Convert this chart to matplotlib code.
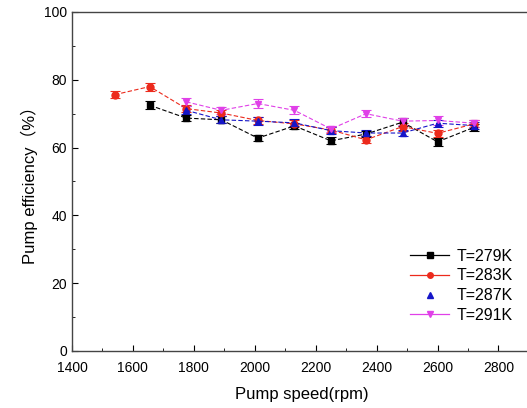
import matplotlib
matplotlib.use("Agg")
import matplotlib.pyplot as plt
from matplotlib.lines import Line2D
from matplotlib.ticker import MultipleLocator

plt.rcParams.update({
    "font.family": ["Liberation Sans", "Noto Sans CJK SC", "DejaVu Sans"],
    "xtick.direction": "in",
    "ytick.direction": "in",
    "axes.linewidth": 1.0,
})

# pump speed (rpm) per series
x_279 = [1655, 1775, 1890, 2010, 2130, 2250, 2365, 2485, 2600, 2720]
x_283 = [1540, 1655, 1775, 1890, 2010, 2130, 2250, 2365, 2485, 2600, 2720]
x_287 = [1775, 1890, 2010, 2130, 2250, 2365, 2485, 2600, 2720]
x_291 = [1775, 1890, 2010, 2130, 2250, 2365, 2485, 2600, 2720]

# pump efficiency (%)
y_279 = [72.5, 68.7, 68.2, 62.8, 66.4, 62.0, 64.0, 67.5, 61.7, 66.0]
y_283 = [75.6, 78.0, 71.5, 70.2, 68.0, 67.0, 65.2, 62.3, 66.2, 64.2, 67.0]
y_287 = [71.0, 68.2, 67.8, 67.3, 65.0, 64.3, 64.3, 67.2, 66.5]
y_291 = [73.5, 71.0, 73.0, 71.0, 65.5, 70.0, 67.8, 68.0, 67.2]

# error bar half widths
e_279 = [1.2, 1.0, 1.0, 1.0, 1.0, 1.0, 1.0, 1.2, 1.2, 1.0]
e_283 = [1.0, 1.2, 1.0, 1.0, 1.0, 1.0, 1.0, 1.0, 1.2, 1.0, 1.0]
e_287 = [1.2, 1.0, 1.2, 1.0, 1.0, 1.0, 1.0, 1.0, 1.0]
e_291 = [1.2, 1.0, 1.2, 1.2, 1.0, 1.0, 1.0, 1.2, 1.0]

labels = ["T=279K", "T=283K", "T=287K", "T=291K"]
colors = ["black", "#ec2a1c", "#1515c8", "#e040e8"]
markers = ["s", "o", "^", "v"]

series = [(x_279, y_279, e_279), (x_283, y_283, e_283),
          (x_287, y_287, e_287), (x_291, y_291, e_291)]

fig = plt.figure(figsize=(5.27, 4.08), dpi=100)
ax = fig.add_axes([72 / 527, 57 / 408, 460 / 527, 339 / 408])

for (xs, ys, es), c, m in zip(series, colors, markers):
    ax.errorbar(xs, ys, yerr=es, color=c, marker=m, markersize=5,
                linestyle="--", linewidth=0.8, elinewidth=0.8,
                capsize=3.5, capthick=0.8, dashes=(4, 2))

ax.set_xlim(1400, 2910)
ax.set_ylim(0, 100)
ax.xaxis.set_major_locator(MultipleLocator(200))
ax.xaxis.set_minor_locator(MultipleLocator(100))
ax.yaxis.set_major_locator(MultipleLocator(20))
ax.yaxis.set_minor_locator(MultipleLocator(10))
ax.tick_params(which="major", length=4, labelsize=10)
ax.tick_params(axis="x", which="major", pad=7)
ax.tick_params(which="minor", length=2)
ax.spines["right"].set_visible(False)
for s in ax.spines.values():
    s.set_color("#444444")

ax.set_xlabel("Pump speed(rpm)", fontsize=12, labelpad=9)
ax.set_ylabel("Pump efficiency（%）", fontsize=12, labelpad=4)

handles = []
for lab, c, m in zip(labels, colors, markers):
    ls = "none" if m == "^" else "-"
    handles.append(Line2D([], [], color=c, marker=m, markersize=4,
                          linestyle=ls, linewidth=0.9, label=lab))
ax.legend(handles=handles, loc="lower right", bbox_to_anchor=(0.99, 0.04),
          frameon=False, fontsize=11.5, handlelength=2.4, handletextpad=0.5,
          labelspacing=0.3)

fig.savefig("out.png", dpi=100)
